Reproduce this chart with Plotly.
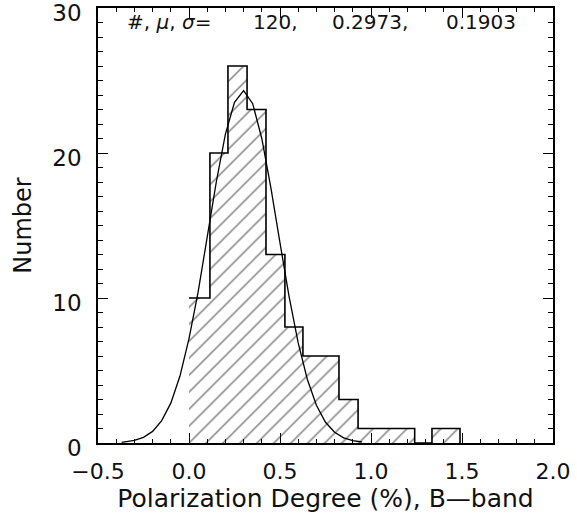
import plotly.graph_objects as go

# histogram: bin edges and counts
bin_edges = [0.0, 0.115, 0.214, 0.319, 0.423, 0.527, 0.626, 0.725, 0.824,
             0.929, 1.032, 1.136, 1.24, 1.335, 1.489]
counts = [10, 20, 26, 23, 13, 8, 6, 6, 3, 1, 1, 1, 0, 1]

# gaussian curve as drawn (read at 0.05 steps)
curve_x = [-0.37, -0.35, -0.30, -0.25, -0.20, -0.15, -0.10, -0.05, 0.00, 0.05,
           0.10, 0.15, 0.20, 0.25, 0.30, 0.35, 0.40, 0.45, 0.50, 0.55,
           0.60, 0.65, 0.70, 0.75, 0.80, 0.85, 0.90, 0.95]
curve_y = [0.05, 0.08, 0.18, 0.39, 0.8, 1.54, 2.75, 4.6, 7.2, 10.4,
           14.2, 18.0, 21.3, 23.5, 24.3, 23.4, 21.0, 17.6, 13.8, 10.1,
           6.9, 4.4, 2.6, 1.43, 0.74, 0.36, 0.16, 0.07]

n_obj = 120
mu = 0.2973
sigma = 0.1903

FONT = "DejaVu Sans"
INK = "#111111"

centers = [(a + b) / 2 for a, b in zip(bin_edges[:-1], bin_edges[1:])]
widths = [b - a for a, b in zip(bin_edges[:-1], bin_edges[1:])]

fig = go.Figure()

# hatched fill
fig.add_trace(go.Bar(
    x=centers, y=counts, width=widths,
    marker=dict(color="white", line=dict(width=0),
                pattern=dict(shape="/", fgcolor="black", bgcolor="white",
                             size=12, solidity=0.12)),
    showlegend=False, hoverinfo="skip"
))

# gaussian
fig.add_trace(go.Scatter(
    x=curve_x, y=curve_y, mode="lines",
    line=dict(color="black", width=1.3),
    showlegend=False
))

# step outline of the histogram
fig.add_trace(go.Scatter(
    x=bin_edges, y=counts + [0], mode="lines",
    line=dict(color="black", width=1.6, shape="hv"),
    showlegend=False
))

ann_font = dict(family=FONT, size=20, color=INK)
fig.add_annotation(x=0.059, y=0.968, xref="paper", yref="paper",
                   text="#, <i>μ</i>, <i>σ</i>=", showarrow=False,
                   xanchor="left", yanchor="middle", font=ann_font)
fig.add_annotation(x=0.444, y=0.968, xref="paper", yref="paper",
                   text=f"{n_obj},", showarrow=False,
                   xanchor="right", yanchor="middle", font=ann_font)
fig.add_annotation(x=0.686, y=0.968, xref="paper", yref="paper",
                   text=f"{mu:.4f},", showarrow=False,
                   xanchor="right", yanchor="middle", font=ann_font)
fig.add_annotation(x=0.923, y=0.968, xref="paper", yref="paper",
                   text=f"{sigma:.4f}", showarrow=False,
                   xanchor="right", yanchor="middle", font=ann_font)

fig.update_xaxes(
    range=[-0.5, 2.0], dtick=0.5, tickformat=".1f", automargin=False,
    showgrid=False, zeroline=False,
    showline=True, linecolor="black", linewidth=1.6, mirror="ticks",
    ticks="inside", ticklen=10, tickwidth=1.2, tickcolor="black",
    minor=dict(ticks="inside", dtick=0.1, ticklen=4, tickwidth=1.2, tickcolor="black", showgrid=False),
    tickfont=dict(family=FONT, size=22, color=INK), ticklabelstandoff=8,
    ticklabeloverflow="allow",
    title=dict(text="Polarization Degree (%), B\u2014band",
               font=dict(family=FONT, size=25, color=INK), standoff=0),
)
fig.update_yaxes(
    range=[0, 30], dtick=10, automargin=False,
    showgrid=False, zeroline=False,
    showline=True, linecolor="black", linewidth=1.6, mirror="ticks",
    ticks="inside", ticklen=10, tickwidth=1.2, tickcolor="black",
    minor=dict(ticks="inside", dtick=1, ticklen=5, tickwidth=1.2, tickcolor="black", showgrid=False),
    tickfont=dict(family=FONT, size=23, color=INK), ticklabelstandoff=10,
    ticklabeloverflow="allow", ticklabelshift=5,
    title=dict(text="Number", font=dict(family=FONT, size=24, color=INK), standoff=14),
)

fig.update_layout(
    width=577, height=519,
    margin=dict(l=98, r=24, t=8, b=76),
    plot_bgcolor="white", paper_bgcolor="white",
    bargap=0,
)

# drop the browser's default body margin so the figure sits at the page origin
fig.write_html("out.html", config={"displayModeBar": False},
               post_script="document.body.style.margin='0';")
